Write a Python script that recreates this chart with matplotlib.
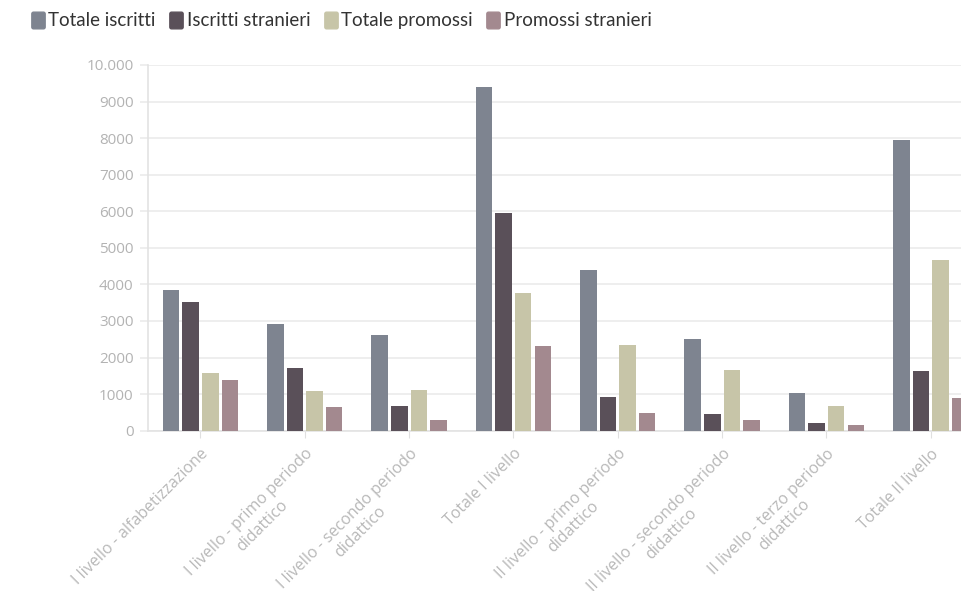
import matplotlib
matplotlib.use("Agg")
import matplotlib.pyplot as plt
from matplotlib.lines import Line2D
from matplotlib.path import Path
import numpy as np

categories = [
    "I livello - alfabetizzazione",
    "I livello - primo periodo\ndidattico",
    "I livello - secondo periodo\ndidattico",
    "Totale I livello",
    "II livello - primo periodo\ndidattico",
    "II livello - secondo periodo\ndidattico",
    "II livello - terzo periodo\ndidattico",
    "Totale II livello",
]
series_names = ["Totale iscritti", "Iscritti stranieri", "Totale promossi", "Promossi stranieri"]
totale_iscritti = [3860, 2920, 2620, 9390, 4390, 2510, 1030, 7940]
iscritti_stranieri = [3510, 1720, 680, 5940, 930, 460, 220, 1620]
totale_promossi = [1570, 1080, 1110, 3760, 2340, 1650, 680, 4680]
promossi_stranieri = [1390, 640, 290, 2310, 475, 290, 150, 890]
y_ticks = [0, 1000, 2000, 3000, 4000, 5000, 6000, 7000, 8000, 9000, 10000]
y_tick_labels = ["0", "1000", "2000", "3000", "4000", "5000", "6000", "7000", "8000", "9000", "10.000"]

colors = ["#7e8490", "#5a5059", "#c7c5a8", "#a3898f"]

plt.rcParams['font.family'] = ['Open Sans', 'DejaVu Sans']

fig = plt.figure(figsize=(9.61, 5.91), dpi=100)
ax = fig.add_axes([148 / 961, 1 - 430.7 / 591, 1 - 148 / 961, (430.7 - 65) / 591])

data = [totale_iscritti, iscritti_stranieri, totale_promossi, promossi_stranieri]
x = np.arange(len(categories))
pitch = 0.188
width = 0.158
for i, (vals, c, name) in enumerate(zip(data, colors, series_names)):
    ax.bar(x + (i - 1.5) * pitch, vals, width=width, color=c, label=name, zorder=3)

ax.set_ylim(0, 10000)
ax.set_xlim(-0.503, 7.29)
ax.set_yticks(y_ticks)
ax.set_yticklabels(y_tick_labels)
ax.grid(axis='y', color='#ebebeb', linewidth=1.2, zorder=0)
ax.set_axisbelow(True)

ax.set_xticks(x)
ax.set_xticklabels(categories, rotation=45, ha='right', rotation_mode='anchor',
                   multialignment='center')

for s in ['top', 'right']:
    ax.spines[s].set_visible(False)
ax.spines['left'].set_color('#e3e3e3')
ax.spines['bottom'].set_color('#e3e3e3')
ax.spines['left'].set_linewidth(1.2)
ax.spines['bottom'].set_linewidth(1.2)

ax.tick_params(axis='y', length=6, width=1.2, color='#ebebeb', pad=4.5,
               labelsize=11, labelcolor='#b3b3b3')
ax.tick_params(axis='x', length=5, color='#e0e0e0', pad=6, labelsize=11.5, labelcolor='#b8b8b8')

# rounded-rectangle legend marker
def rounded_rect(w=0.8, h=1.0, r=0.1, n=6):
    pts = []
    corners = [(w / 2 - r, h / 2 - r, 0), (-w / 2 + r, h / 2 - r, 90),
               (-w / 2 + r, -h / 2 + r, 180), (w / 2 - r, -h / 2 + r, 270)]
    for cx, cy, a0 in corners:
        for t in np.linspace(np.radians(a0), np.radians(a0 + 90), n):
            pts.append((cx + r * np.cos(t), cy + r * np.sin(t)))
    pts.append(pts[0])
    return Path(pts, closed=True)

rr = rounded_rect()
handles = [Line2D([0], [0], marker=rr, linestyle='none', markersize=12,
                  markerfacecolor=c, markeredgecolor=c) for c in colors]
leg = fig.legend(handles, series_names, loc='upper left', bbox_to_anchor=(0.02, 1.0),
                 ncol=4, frameon=False, handlelength=0.7, handletextpad=0.2,
                 columnspacing=0.75, labelcolor='#333333', borderaxespad=0.25,
                 prop={'family': ['Lato', 'DejaVu Sans'], 'size': 13.5})

fig.savefig("out.png", dpi=100)
